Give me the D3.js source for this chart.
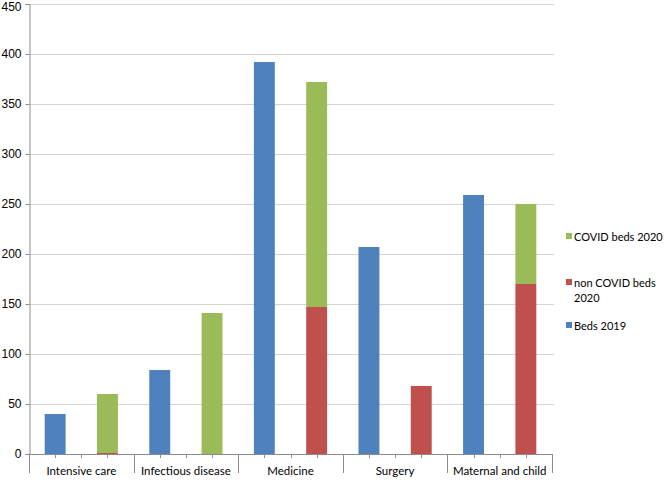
<!DOCTYPE html>
<html>
<head>
<meta charset="utf-8">
<script src="https://cdn.jsdelivr.net/npm/d3@7"></script>
<style>
  html, body { margin: 0; padding: 0; background: #fff; }
  svg { display: block; font-family: Lato, "Open Sans", "Liberation Sans", sans-serif; }
</style>
</head>
<body>
<svg id="chart" width="666" height="485"></svg>
<script>
const categories = ["Intensive care", "Infectious disease", "Medicine", "Surgery", "Maternal and child"];
const beds2019 = [40, 84, 392, 207, 259];
const nonCovid2020 = [1, 0, 147, 68, 170];
const covid2020 = [59, 141, 225, 0, 80];
const yTicks = [0, 50, 100, 150, 200, 250, 300, 350, 400, 450];
const legendLabels = [["COVID beds 2020"], ["non COVID beds", "2020"], ["Beds 2019"]];
const colors = { beds2019: "#4F81BD", nonCovid: "#C0504D", covid: "#9BBB59" };

const svg = d3.select("#chart");
const x0 = 29, x1 = 552, yTop = 4, yBot = 454;

const x = d3.scaleBand().domain(categories).range([x0, x1]).paddingInner(0).paddingOuter(0);
const sub = d3.scalePoint().domain([0, 1, 2, 3, 4]).range([0, x.bandwidth()]);
const y = d3.scaleLinear().domain([0, 450]).range([yBot, yTop]);
const barW = x.bandwidth() * 0.2;

// gridlines
svg.append("g").selectAll("line").data(yTicks.filter(d => d > 0)).join("line")
  .attr("x1", x0).attr("x2", x1 + 2)
  .attr("y1", d => Math.round(y(d)) + 0.5).attr("y2", d => Math.round(y(d)) + 0.5)
  .attr("stroke", "#d4d4d4").attr("stroke-width", 1);

// y axis
const yAxis = d3.axisLeft(y).tickValues(yTicks).tickSize(4).tickPadding(4);
const gy = svg.append("g").attr("transform", `translate(${x0 + 0.5},0)`).call(yAxis);
gy.select(".domain").attr("stroke", "#8c8c8c");
gy.selectAll(".tick line").attr("stroke", "#8c8c8c");
gy.selectAll(".tick text").attr("font-size", 12).attr("fill", "#000")
  .attr("dy", d => d === 450 ? "0.5em" : "0.32em");

// bars
const rows = categories.map((c, i) => ({ c, b: beds2019[i], n: nonCovid2020[i], v: covid2020[i] }));
const g = svg.append("g");
g.selectAll(".b19").data(rows).join("rect")
  .attr("x", d => x(d.c) + sub(1) - barW / 2).attr("width", barW)
  .attr("y", d => y(d.b)).attr("height", d => y(0) - y(d.b))
  .attr("fill", colors.beds2019);
g.selectAll(".nc").data(rows.filter(d => d.n > 0)).join("rect")
  .attr("x", d => x(d.c) + sub(3) - barW / 2).attr("width", barW)
  .attr("y", d => y(d.n)).attr("height", d => y(0) - y(d.n))
  .attr("fill", colors.nonCovid);
g.selectAll(".cv").data(rows.filter(d => d.v > 0)).join("rect")
  .attr("x", d => x(d.c) + sub(3) - barW / 2).attr("width", barW)
  .attr("y", d => y(d.n + d.v)).attr("height", d => y(d.n) - y(d.n + d.v))
  .attr("fill", colors.covid);

// x axis
const ax = svg.append("g");
ax.append("line").attr("x1", x0).attr("x2", x1).attr("y1", yBot + 0.5).attr("y2", yBot + 0.5).attr("stroke", "#8c8c8c");
categories.forEach(c => {
  [1, 2, 3].forEach(k => {
    const xx = Math.round(x(c) + sub(k)) + 0.5;
    ax.append("line").attr("x1", xx).attr("x2", xx).attr("y1", yBot).attr("y2", yBot + 4).attr("stroke", "#8c8c8c");
  });
});
x.domain().concat(["_end"]).forEach((c, i) => {
  const xx = Math.round(i < categories.length ? x(c) : x1) + 0.5;
  ax.append("line").attr("x1", xx).attr("x2", xx).attr("y1", yBot).attr("y2", yBot + 19).attr("stroke", "#8c8c8c");
});
ax.selectAll("text").data(categories).join("text")
  .attr("x", d => x(d) + x.bandwidth() / 2).attr("y", 475)
  .attr("text-anchor", "middle").attr("font-size", 11.5).attr("fill", "#000")
  .text(d => d);

// legend
const legendColors = [colors.covid, colors.nonCovid, colors.beds2019];
const legendY = [237, 283, 326];
const lg = svg.append("g");
legendLabels.forEach((lines, i) => {
  lg.append("rect").attr("x", 566).attr("y", legendY[i] - 4).attr("width", 6).attr("height", 6).attr("fill", legendColors[i]);
  const t = lg.append("text").attr("x", 574).attr("y", legendY[i] + 4).attr("font-size", 11).attr("fill", "#000");
  lines.forEach((l, j) => t.append("tspan").attr("x", 574).attr("dy", j === 0 ? 0 : 15).text(l));
});
</script>
</body>
</html>
